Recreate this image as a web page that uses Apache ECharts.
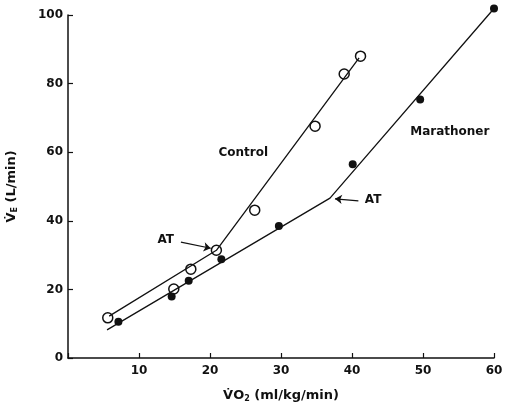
<!DOCTYPE html>
<html>
<head>
<meta charset="utf-8">
<script src="https://cdn.jsdelivr.net/npm/echarts@6/dist/echarts.min.js"></script>
<style>
  html, body { margin: 0; padding: 0; background: #fff; }
  #chart { width: 506px; height: 405px; }
</style>
</head>
<body>
<div id="chart"></div>
<script>
const controlX = [5.6, 14.9, 17.3, 20.9, 26.3, 34.8, 38.9, 41.2];
const controlY = [11.7, 20.1, 25.9, 31.4, 43.1, 67.6, 82.8, 88.0];
const marathonX = [7.1, 14.6, 17.0, 21.6, 29.7, 40.1, 49.6, 60.0];
const marathonY = [10.6, 17.9, 22.5, 28.8, 38.5, 56.5, 75.4, 101.9];

// hand-drawn fit lines (break at AT)
const controlFitX = [5.8, 20.9, 41.0];
const controlFitY = [12.2, 31.4, 87.5];
const marathonFitX = [5.5, 36.9, 60.0];
const marathonFitY = [8.2, 46.6, 101.9];

// annotations: [label, x, y]
const notes = [
  ['Control', 21.2, 59.8],
  ['Marathoner', 48.2, 66.0],
  ['AT', 12.6, 34.4],
  ['AT', 41.8, 46.1]
];
// arrows: [fromX, fromY, toX, toY]
const arrows = [
  [15.9, 33.8, 20.1, 32.0],
  [40.9, 45.8, 37.6, 46.4]
];

const xTicks = [0, 10, 20, 30, 40, 50, 60];
const yTicks = [0, 20, 40, 60, 80, 100];

const FONT = 'DejaVu Sans';
const INK = '#111';

const zip = (xs, ys) => xs.map((x, i) => [x, ys[i]]);

const chart = echarts.init(document.getElementById('chart'));

const nameRich = {
  v: { fontFamily: FONT, fontWeight: 'bold', fontSize: 13, color: INK },
  sub: { fontFamily: FONT, fontWeight: 'bold', fontSize: 8, color: INK, padding: [7, 0, 0, 0] }
};

const option = {
  backgroundColor: '#fff',
  animation: false,
  grid: { left: 68, right: 12, top: 15, bottom: 47, containLabel: false, outerBoundsMode: 'none' },
  xAxis: {
    type: 'value',
    min: xTicks[0],
    max: xTicks[xTicks.length - 1],
    interval: 10,
    splitLine: { show: false },
    axisLine: { lineStyle: { color: INK, width: 1.5 } },
    axisTick: { inside: true, length: 5, lineStyle: { color: INK, width: 1.2 } },
    axisLabel: {
      color: INK, fontFamily: FONT, fontWeight: 'bold', fontSize: 12, margin: 7,
      formatter: v => (v === 0 ? '' : String(v))
    },
    name: '{v|V\u0307O}{sub|2}{v| (ml/kg/min)}',
    nameLocation: 'middle',
    nameGap: 30,
    nameTextStyle: { rich: nameRich }
  },
  yAxis: {
    type: 'value',
    min: yTicks[0],
    max: yTicks[yTicks.length - 1],
    interval: 20,
    splitLine: { show: false },
    axisLine: { lineStyle: { color: INK, width: 1.5 } },
    axisTick: { inside: true, length: 5, lineStyle: { color: INK, width: 1.2 } },
    axisLabel: { color: INK, fontFamily: FONT, fontWeight: 'bold', fontSize: 12, margin: 5 },
    name: '{v|V\u0307}{sub|E}{v| (L/min)}',
    nameLocation: 'middle',
    nameGap: 49,
    nameRotate: 90,
    nameTextStyle: { rich: nameRich }
  },
  series: [
    {
      type: 'line', data: zip(controlFitX, controlFitY), symbol: 'none', clip: false,
      lineStyle: { color: INK, width: 1.3 }, silent: true
    },
    {
      type: 'line', data: zip(marathonFitX, marathonFitY), symbol: 'none', clip: false,
      lineStyle: { color: INK, width: 1.3 }, silent: true
    },
    {
      name: 'Control', type: 'scatter', data: zip(controlX, controlY), clip: false,
      symbol: 'circle', symbolSize: 10,
      itemStyle: { color: '#fff', borderColor: INK, borderWidth: 1.5, opacity: 1 }
    },
    {
      name: 'Marathoner', type: 'scatter', data: zip(marathonX, marathonY), clip: false,
      symbol: 'circle', symbolSize: 8,
      itemStyle: { color: INK, opacity: 1 }
    },
    {
      type: 'scatter', symbolSize: 0, silent: true, clip: false,
      itemStyle: { opacity: 1 },
      data: notes.map(n => ({ name: n[0], value: [n[1], n[2]] })),
      label: {
        show: true, position: 'right', distance: 0, formatter: p => p.name,
        fontFamily: FONT, fontWeight: 'bold', fontSize: 12, color: INK, opacity: 1
      }
    },
    {
      type: 'lines', coordinateSystem: 'cartesian2d', silent: true,
      data: arrows.map(a => ({ coords: [[a[0], a[1]], [a[2], a[3]]] })),
      symbol: ['none', 'arrow'], symbolSize: 7,
      lineStyle: { color: INK, width: 1.2, opacity: 1 }
    }
  ]
};

chart.setOption(option);
</script>
</body>
</html>
